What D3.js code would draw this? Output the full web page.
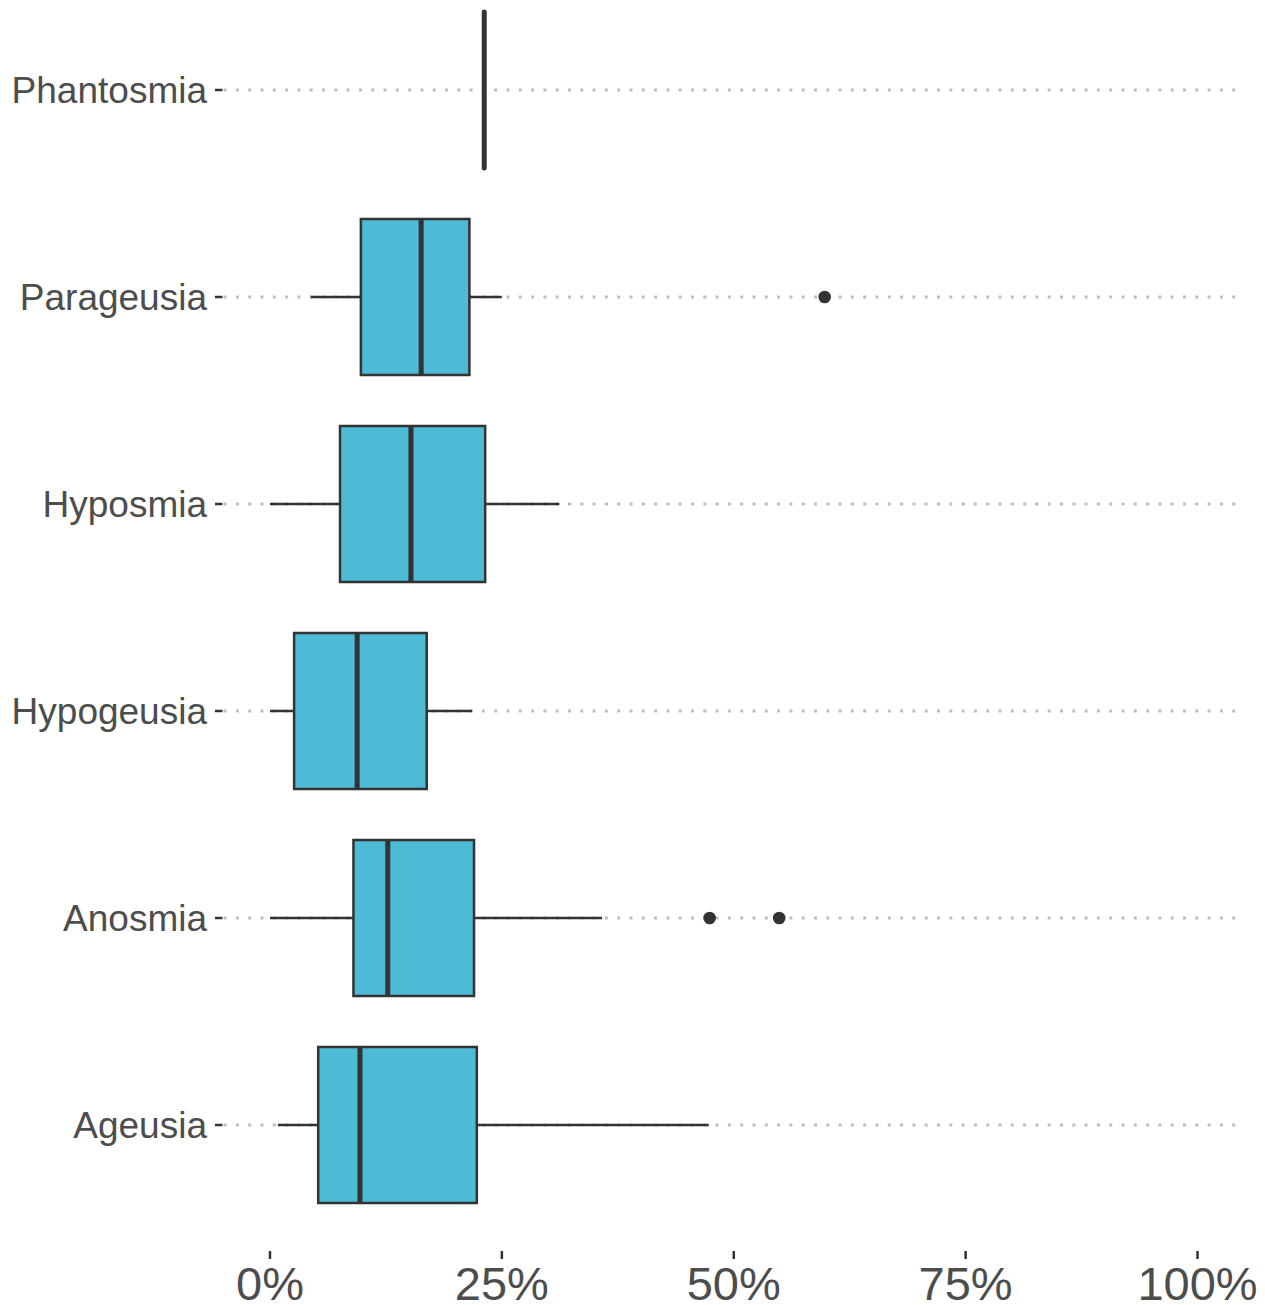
<!DOCTYPE html>
<html>
<head>
<meta charset="utf-8">
<script src="https://cdn.jsdelivr.net/npm/d3@7"></script>
<style>
  body { margin: 0; background: #fff; }
  text { font-family: "Liberation Sans", Arial, sans-serif; }
</style>
</head>
<body>
<div id="chart"></div>
<script>
// data (percent)
const symptoms = ["Phantosmia", "Parageusia", "Hyposmia", "Hypogeusia", "Anosmia", "Ageusia"];
const whiskerLow  = [23.1, 4.4, 0,    0,    0,    0.85];
const q1          = [23.1, 9.8, 7.55, 2.6,  9.0,  5.2];
const median      = [23.1, 16.3, 15.2, 9.4, 12.7, 9.7];
const q3          = [23.1, 21.5, 23.2, 16.9, 22.0, 22.3];
const whiskerHigh = [23.1, 25.0, 31.2, 21.8, 35.8, 47.3];
const outliers    = [[], [59.8], [], [], [47.4, 54.9], []];
const xTicks = [0, 25, 50, 75, 100];

const w = 1265, h = 1305;
const fill = "#4DBBD5", ink = "#333333", txt = "#4d4d4d";

const svg = d3.select("#chart").append("svg")
  .attr("width", w).attr("height", h)
  .attr("viewBox", [0, 0, w, h]);

const x = d3.scaleLinear().domain([-5, 105]).range([223.6, 1243.9]);
const y = d3.scalePoint().domain(symptoms).range([90, 1125]);
const half = 78;

let rows = symptoms.map((s, i) => ({
  name: s, lo: whiskerLow[i], q1: q1[i], med: median[i], q3: q3[i], hi: whiskerHigh[i], out: outliers[i]
}));

// dotted horizontal grid
svg.append("g").selectAll("line").data(symptoms).join("line")
  .attr("x1", x.range()[0]).attr("x2", x.range()[1])
  .attr("y1", d => y(d)).attr("y2", d => y(d))
  .attr("stroke", "#bebebe").attr("stroke-width", 3)
  .attr("stroke-dasharray", "3,9.3");

// y axis ticks + labels
const ya = svg.append("g");
ya.selectAll("line").data(symptoms).join("line")
  .attr("x1", 215).attr("x2", 222.5)
  .attr("y1", d => y(d)).attr("y2", d => y(d))
  .attr("stroke", ink).attr("stroke-width", 2.5);
ya.selectAll("text").data(symptoms).join("text")
  .attr("x", 207).attr("y", d => y(d)).attr("dy", "0.35em")
  .attr("text-anchor", "end").attr("font-size", 37).attr("fill", txt)
  .text(d => d);

// x axis ticks + labels
const xa = svg.append("g");
xa.selectAll("line").data(xTicks).join("line")
  .attr("x1", d => x(d)).attr("x2", d => x(d))
  .attr("y1", 1251).attr("y2", 1259)
  .attr("stroke", ink).attr("stroke-width", 2.5);
xa.selectAll("text").data(xTicks).join("text")
  .attr("x", d => x(d)).attr("y", 1300)
  .attr("text-anchor", "middle").attr("font-size", 47).attr("fill", txt)
  .text(d => d + "%");

// boxes
const g = svg.append("g").selectAll("g").data(rows).join("g");
g.append("line") // lower whisker
  .attr("x1", d => x(d.lo)).attr("x2", d => x(d.q1))
  .attr("y1", d => y(d.name)).attr("y2", d => y(d.name))
  .attr("stroke", ink).attr("stroke-width", 2.5);
g.append("line") // upper whisker
  .attr("x1", d => x(d.q3)).attr("x2", d => x(d.hi))
  .attr("y1", d => y(d.name)).attr("y2", d => y(d.name))
  .attr("stroke", ink).attr("stroke-width", 2.5);
g.append("rect")
  .attr("x", d => x(d.q1)).attr("width", d => x(d.q3) - x(d.q1))
  .attr("y", d => y(d.name) - half).attr("height", half * 2)
  .attr("fill", fill).attr("stroke", ink).attr("stroke-width", 2.5);
g.append("line") // median
  .attr("x1", d => x(d.med)).attr("x2", d => x(d.med))
  .attr("y1", d => y(d.name) - half).attr("y2", d => y(d.name) + half)
  .attr("stroke", ink).attr("stroke-width", 5)
  .attr("stroke-linecap", d => d.q1 === d.q3 ? "round" : "butt");
g.selectAll("circle").data(d => d.out.map(v => ({v, name: d.name}))).join("circle")
  .attr("cx", d => x(d.v)).attr("cy", d => y(d.name)).attr("r", 6.3)
  .attr("fill", ink);
</script>
</body>
</html>
